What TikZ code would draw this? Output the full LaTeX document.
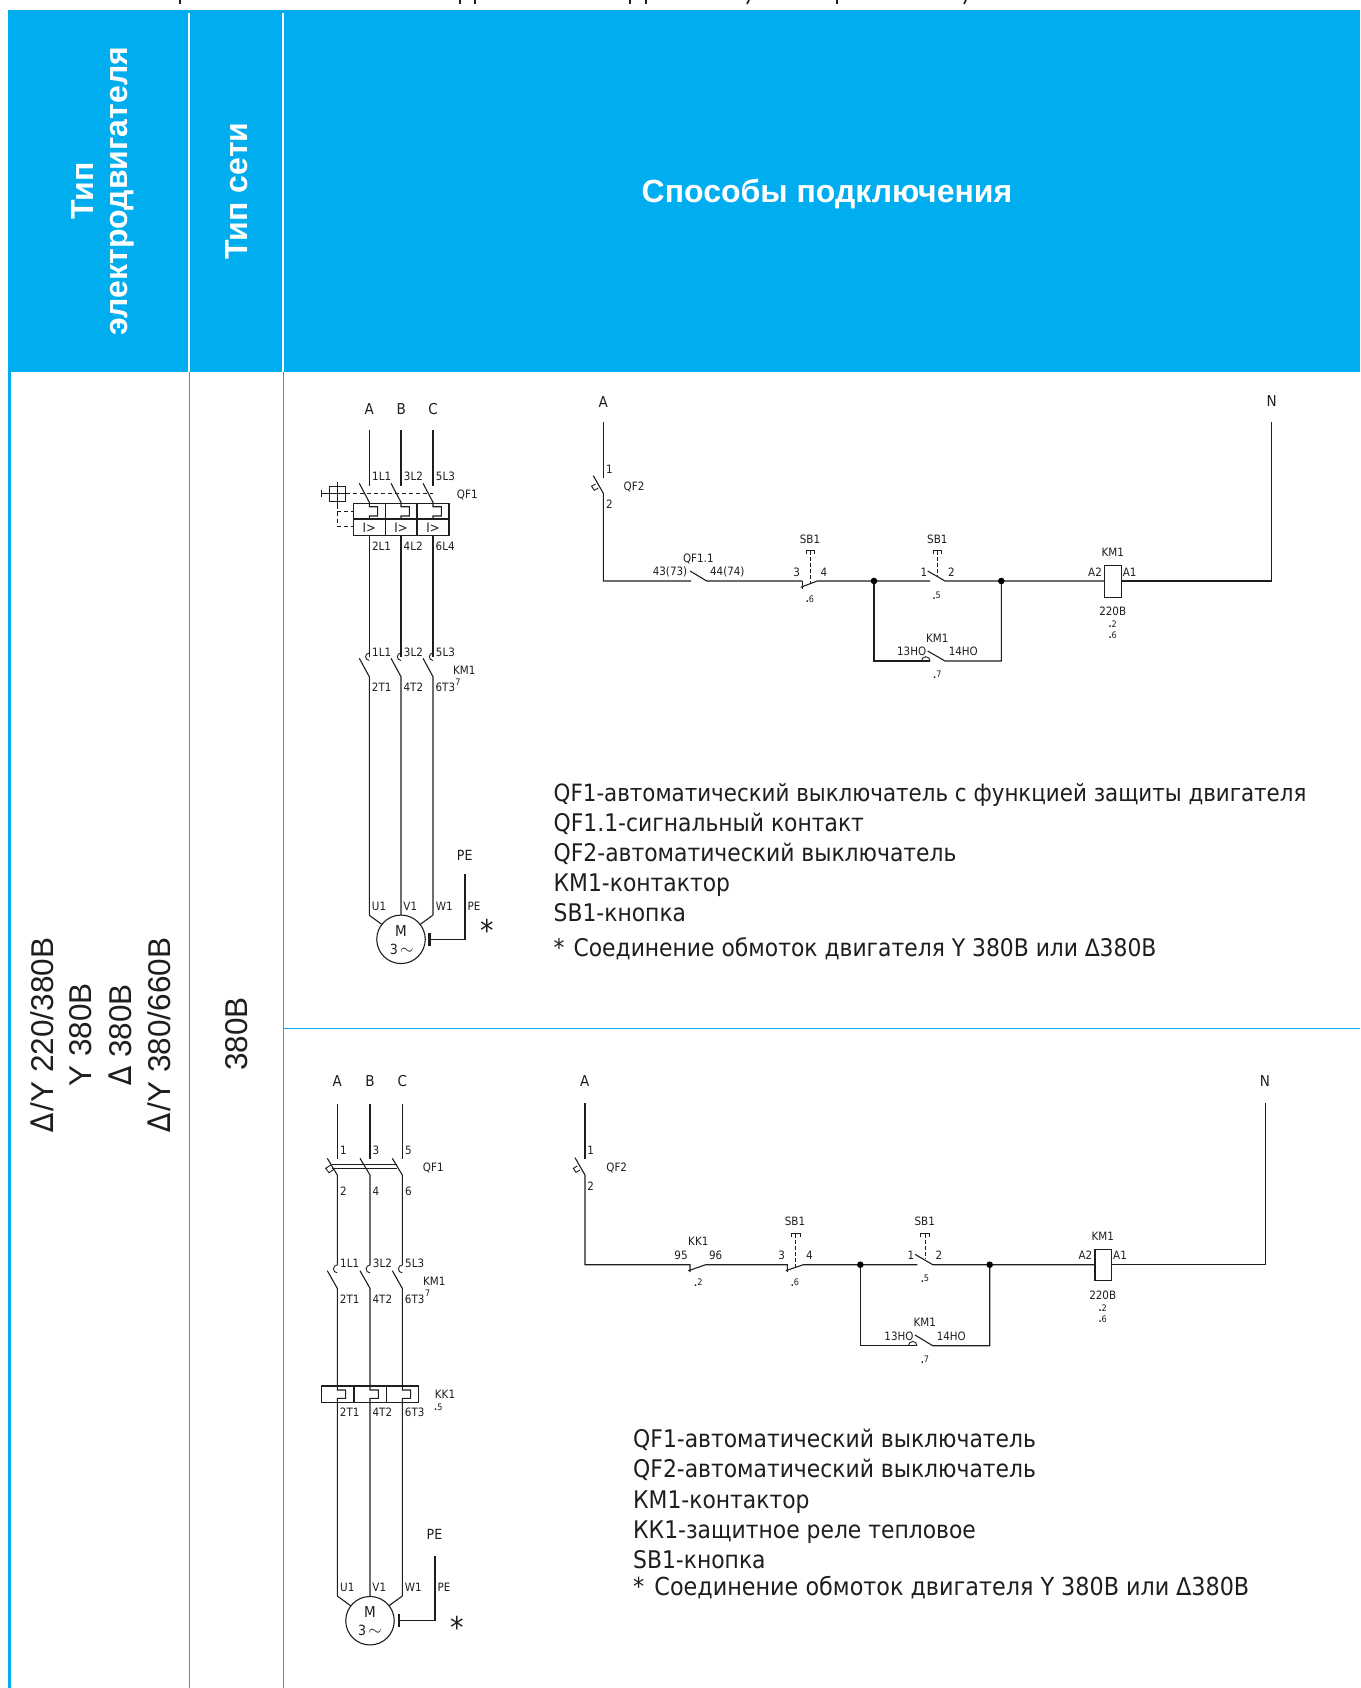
\documentclass[tikz,border=0pt]{standalone}
\usepackage{fontspec}
\setmainfont{Liberation Sans}
\newfontfamily\schem{DejaVu Sans Condensed}
\definecolor{hdr}{HTML}{00AEEF}
\definecolor{ink}{HTML}{1E1E1E}
\newcommand{\dn}[1]{\raisebox{-0.5pt}{\textbf{.}}#1}
\tikzset{
  wire/.style={draw=ink,line width=1.1pt},
  thin wire/.style={draw=ink,line width=0.9pt},
  dash wire/.style={draw=ink,line width=0.9pt,dash pattern=on 4pt off 3pt},
  lbl/.style={font=\schem\fontsize{11.5}{12}\selectfont,text=ink,inner sep=0pt},
  mini/.style={font=\schem\fontsize{9}{9}\selectfont,text=ink,inner sep=0pt},
  big/.style={font=\schem\fontsize{15}{16}\selectfont,text=ink,inner sep=0pt},
  listline/.style={font=\schem\fontsize{24.3}{30}\selectfont,text=ink,inner sep=0pt,anchor=base west},
  head/.style={font=\bfseries\fontsize{32}{34}\selectfont,text=white,inner sep=0pt,align=center},
  body/.style={font=\fontsize{31.5}{36}\selectfont,text=ink,inner sep=0pt},
  rule/.style={draw=hdr,line width=1.6pt},
  whiterule/.style={draw=white,line width=2.2pt},
  jdot/.style={circle,fill=black,inner sep=0pt,minimum size=6.6pt},
  starmark/.style={font=\schem\fontsize{30}{30}\selectfont,text=ink,inner sep=0pt},
  frag/.style={draw=ink,line width=1.6pt},
}
\begin{document}
\begin{tikzpicture}[x=1pt,y=-1pt]
\useasboundingbox (0,0) rectangle (1360,1688);
% clipped remains of a text line above the table
\foreach \x in {180,460,475,630,646,837}{\draw[frag] (\x,0) -- (\x,4);}
\foreach \x in {748,965}{\draw[frag] (\x+1,0) -- (\x-1,4);}
% table
\fill[hdr] (8,10) rectangle (1360,372);
\draw[whiterule] (189.3,13) -- (189.3,372);
\draw[whiterule] (283.3,13) -- (283.3,372);
\draw[rule,line width=2.6pt] (9.5,372) -- (9.5,1688);
\draw[rule] (189.3,372) -- (189.3,1688);
\draw[rule] (283.3,372) -- (283.3,1688);
\draw[rule] (283.3,1028.5) -- (1360,1028.5);
\node[head,rotate=90] (h1) at (103,191) {Тип\\электродвигателя};
\node[head,rotate=90] (h2) at (237,191) {Тип сети};
\node[head] (h3) at (827,194) {Способы подключения};
\node[body,rotate=90] (c1) at (42,1035) {\schem ∆\kern2pt\rmfamily/Y 220/380В};
\node[body,rotate=90] (c2) at (81,1035) {Y 380В};
\node[body,rotate=90] (c3) at (120,1035) {\schem ∆\rmfamily\ 380В};
\node[body,rotate=90] (c4) at (159,1035) {\schem ∆\kern2pt\rmfamily/Y 380/660В};
\node[body,rotate=90] (c5) at (237,1034) {380В};

% ===== Diagram 1: power =====
\node[big] (p1a) at (369.3,409) {A};
\node[big] (p1b) at (401.3,409) {B};
\node[big] (p1c) at (433,409) {C};
\foreach \x/\a/\b/\c/\d in {369.3/1L1/2L1/1L1/2T1, 401/3L2/4L2/3L2/4T2, 433/5L3/6L4/5L3/6T3}{
  \draw[wire] (\x,430) -- (\x,485.7);
  \draw[wire] (\x-10,483.3) -- (\x,502.3) -- (\x,506.7) -- ++(8.3,0) -- ++(0,9.3) -- ++(-8.3,0) -- (\x,519);
  \draw[wire] (\x,535.3) -- (\x,656.7);
  \draw[thin wire] (\x,653) arc[start angle=270,end angle=90,radius=3.7];
  \draw[wire] (\x-10,658.3) -- (\x,676.7) -- (\x,915.3);
  \node[lbl] at (\x+12.4,476.7) {\a};
  \node[lbl] at (\x+12.2,546) {\b};
  \node[lbl] at (\x+12.4,652) {\c};
  \node[lbl] at (\x+12.4,687.7) {\d};
  \node[font=\fontsize{13}{14}\selectfont\schem,text=ink,inner sep=0pt] at (\x,527.3) {I>};
}
\draw[wire] (353.3,503.3) rectangle (449,535.3);
\draw[wire] (353.3,519) -- (449,519);
\draw[wire] (385.3,503.3) -- (385.3,535.3);
\draw[wire] (417,503.3) -- (417,535.3);
\node[lbl] (qf1a) at (467.3,494.7) {QF1};
\node[lbl] (km1a) at (464.3,670) {KM1};
\node[mini] at (458,682) {7};
% handle
\draw[thin wire] (329.3,486) rectangle (345.3,501);
\draw[thin wire] (321.7,493.5) -- (345.3,493.5);
\draw[thin wire] (321.7,490) -- (321.7,497);
\draw[thin wire] (337.3,481.7) -- (337.3,505);
\draw[dash wire] (345.7,493.3) -- (433,493.3);
\draw[dash wire] (337.3,505) -- (337.3,526.7) -- (353.3,526.7);
\draw[dash wire] (337.3,511) -- (353.3,511);
% motor 1
\node[draw=ink,line width=1.1pt,circle,minimum size=48.5pt,inner sep=0pt] (m1) at (401,939.3) {};
\draw[wire] (369.3,915.3) -- (381.7,924.3);
\draw[wire] (432.7,915.3) -- (420.3,924.3);
\node[big] (m1t) at (401,931) {M};
\node[lbl,font=\schem\fontsize{14}{14}\selectfont] (m1b) at (401.7,949.3) {3\,{\fontsize{18}{18}\selectfont$\sim$}};
\node[lbl] (u1) at (379,906.7) {U1};
\node[lbl] (v1) at (410.3,906.7) {V1};
\node[lbl] (w1) at (444.3,906.7) {W1};
\node[lbl] (pe1s) at (474,906.7) {PE};
\node[font=\schem\fontsize{14}{15}\selectfont,text=ink,inner sep=0pt] (pe1) at (464.7,855) {PE};
\coordinate (pe1t) at (465,874);
\coordinate (pe1b) at (465,939.3);
\coordinate (pe1g) at (430.7,939.3);
\draw[wire] (pe1t) -- (pe1b) -- (pe1g);
\draw[draw=ink,line width=2.4pt] (429.5,933) -- (429.5,946);
\node[starmark] (st1) at (487.3,930) {*};

% ===== Diagram 1: control =====
\node[big] (ca) at (603.3,401.7) {A};
\node[big] (cn) at (1271.7,401) {N};
\draw[wire] (603.3,422.3) -- (603.3,477.7);
\draw[wire] (593.3,475.7) -- (603.3,493.3) -- (603.3,581) -- (691,581);
\draw[thin wire] (595.6,484) -- (591.6,486.3) -- (594.3,490.3) -- (598.3,488);
\coordinate (j1) at (874,581);
\coordinate (j2) at (1001.3,581);
\draw[wire] (690,571) -- (706.7,581) -- (802.3,581);
\draw[wire] (802.3,581) -- (802.3,588.5);
\draw[wire] (800.7,587.3) -- (817.3,581) -- (874,581) -- (930,581);
\draw[wire] (927.7,571) -- (945,581) -- (1104.3,581);
\draw[wire] (1121,581) -- (1271.7,581) -- (1271.7,422);
\draw[wire] (874,581) -- (874,661) -- (930,661);
\draw[wire] (927.7,651) -- (945,661) -- (1001.3,661) -- (1001.3,581);
\draw[thin wire] (921.5,661) arc[start angle=180,end angle=360,radius=4.3];
\node[jdot] (d1) at (j1) {};
\node[jdot] (d2) at (j2) {};
\draw[dash wire,dash pattern=on 3.5pt off 2.5pt] (810.3,551) -- (810.3,584);
\draw[thin wire] (806,553.5) -- (806,550) -- (814.6,550) -- (814.6,553.5);
\draw[dash wire,dash pattern=on 3.5pt off 2.5pt] (937.3,551) -- (937.3,576);
\draw[thin wire] (933,553.5) -- (933,550) -- (941.6,550) -- (941.6,553.5);
\node[draw=ink,line width=1.1pt,fill=white,minimum width=16.7pt,minimum height=32pt,inner sep=0pt] (km1c) at (1112.7,581.3) {};
\node[lbl] at (609.3,469) {1};
\node[lbl] at (634,486.7) {QF2};
\node[lbl] at (609.3,504.3) {2};
\node[lbl] at (698.3,558.7) {QF1.1};
\node[lbl] at (670,572.3) {43(73)};
\node[lbl] at (727.3,572.3) {44(74)};
\node[lbl] at (810,539) {SB1};
\node[lbl] at (796.7,572.3) {3};
\node[lbl] at (824,572.3) {4};
\node[mini] at (810,599.3) {\dn{6}};
\node[lbl] at (937.3,539) {SB1};
\node[lbl] at (924,572.3) {1};
\node[lbl] at (951.3,572.3) {2};
\node[mini] at (936.7,595.7) {\dn{5}};
\node[lbl] at (937.3,638.3) {KM1};
\node[lbl] at (911.7,651.7) {13HO};
\node[lbl] at (963.3,651.7) {14HO};
\node[mini] at (937.3,674.7) {\dn{7}};
\node[lbl] at (1112.7,552.7) {KM1};
\node[lbl] at (1095,572) {A2};
\node[lbl] at (1129.7,572) {A1};
\node[lbl] at (1112.7,611.3) {220В};
\node[mini] at (1112.7,624.3) {\dn{2}};
\node[mini] at (1112.7,635) {\dn{6}};
% list 1
\node[listline,font=\schem\fontsize{23.8}{30}\selectfont] (l11) at (553.5,801.6) {QF1-автоматический выключатель с функцией защиты двигателя};
\node[listline] (l12) at (553.5,831.2) {QF1.1-сигнальный контакт};
\node[listline] (l13) at (553.5,861) {QF2-автоматический выключатель};
\node[listline] (l14) at (553.5,891) {КМ1-контактор};
\node[listline] (l15) at (553.5,921) {SB1-кнопка};
\node[listline] (l16) at (553.5,956) {*\kern2pt\ Соединение обмоток двигателя Y 380В или ∆380В};

% ===== Diagram 2: power =====
\node[big] (p2a) at (337.3,1081) {A};
\node[big] (p2b) at (370,1081) {B};
\node[big] (p2c) at (402.3,1081) {C};
\foreach \x/\a/\b/\c/\d in {337.3/1/2/1L1/2T1, 370/3/4/3L2/4T2, 402.3/5/6/5L3/6T3}{
  \draw[wire] (\x,1104) -- (\x,1159.3);
  \draw[wire] (\x-10,1158.3) -- (\x,1175) -- (\x,1265);
  \draw[thin wire] (\x,1265) arc[start angle=270,end angle=90,radius=3.9];
  \draw[wire] (\x-10,1270.7) -- (\x,1288.3) -- (\x,1386) -- ++(0,4) -- ++(8.3,0) -- ++(0,8.3) -- ++(-8.3,0) -- (\x,1596);
  \node[lbl] at (\x+6,1150) {\a};
  \node[lbl] at (\x+6,1191.7) {\b};
  \node[lbl] at (\x+12.4,1263.3) {\c};
  \node[lbl] at (\x+12.4,1299.3) {\d};
  \node[lbl] at (\x+12.4,1412.7) {\d};
}
\draw[wire] (331.7,1164.3) -- (397.3,1164.3);
\draw[wire] (331.7,1168.3) -- (397.3,1168.3);
\draw[thin wire] (330.7,1165) -- (325.7,1168.3) -- (329,1172.7) -- (334,1169.3);
\draw[wire] (321.3,1386) rectangle (418.3,1402.3);
\draw[wire] (354,1386) -- (354,1402.3);
\draw[wire] (386.3,1386) -- (386.3,1402.3);
\node[lbl] at (433.3,1168) {QF1};
\node[lbl] at (434.3,1281.3) {KM1};
\node[mini] at (427.7,1293.3) {7};
\node[lbl] at (445,1394.7) {KK1};
\node[mini] at (438.3,1407.3) {\dn{5}};
% motor 2
\node[draw=ink,line width=1.1pt,circle,minimum size=48.5pt,inner sep=0pt] (m2) at (370,1620.7) {};
\draw[wire] (337.3,1596) -- (350.7,1605.7);
\draw[wire] (402.3,1596) -- (389,1605.7);
\node[big] (m2t) at (370,1611.7) {M};
\node[lbl,font=\schem\fontsize{14}{14}\selectfont] (m2b) at (370,1630.7) {3\,{\fontsize{18}{18}\selectfont$\sim$}};
\node[lbl] (u2) at (347.3,1587.3) {U1};
\node[lbl] (v2) at (379.3,1587.3) {V1};
\node[lbl] (w2) at (413.3,1587.3) {W1};
\node[lbl] (pe2s) at (444,1587.3) {PE};
\node[font=\schem\fontsize{14}{15}\selectfont,text=ink,inner sep=0pt] (pe2) at (434.5,1534.4) {PE};
\coordinate (pe2t) at (435,1556);
\coordinate (pe2b) at (435,1620.7);
\coordinate (pe2g) at (400,1620.7);
\draw[wire] (pe2t) -- (pe2b) -- (pe2g);
\draw[draw=ink,line width=2.4pt] (398.8,1614) -- (398.8,1627.3);
\node[starmark] (st2) at (457.3,1627.5) {*};

% ===== Diagram 2: control =====
\node[big] (c2a) at (584.7,1081) {A};
\node[big] (c2n) at (1265,1081) {N};
\draw[wire] (585,1103) -- (585,1159.3);
\draw[wire] (575,1157.7) -- (585,1175) -- (585,1264.7) -- (690,1264.7) -- (690,1272);
\draw[thin wire] (577.3,1166) -- (573.3,1168.3) -- (576,1172.3) -- (580,1170);
\coordinate (k1) at (860.3,1264.7);
\coordinate (k2) at (989.7,1264.7);
\draw[wire] (688.3,1270.7) -- (705.7,1264.7) -- (787.3,1264.7) -- (787.3,1272);
\draw[wire] (785.7,1270.7) -- (803.3,1264.7) -- (917.3,1264.7);
\draw[wire] (915,1254.3) -- (932.7,1264.7) -- (1095,1264.7);
\draw[wire] (1111.5,1264.7) -- (1265.2,1264.7) -- (1265.2,1103);
\draw[wire] (860.3,1264.7) -- (860.3,1345.7) -- (917.3,1345.7);
\draw[wire] (915,1335) -- (932.7,1345.7) -- (989.7,1345.7) -- (989.7,1264.7);
\draw[thin wire] (908.4,1345.7) arc[start angle=180,end angle=360,radius=4.3];
\node[jdot] (d3) at (k1) {};
\node[jdot] (d4) at (k2) {};
\draw[dash wire,dash pattern=on 3.5pt off 2.5pt] (795.7,1234) -- (795.7,1267);
\draw[thin wire] (791.4,1236.5) -- (791.4,1233) -- (800,1233) -- (800,1236.5);
\draw[dash wire,dash pattern=on 3.5pt off 2.5pt] (925,1234) -- (925,1259);
\draw[thin wire] (920.7,1236.5) -- (920.7,1233) -- (929.3,1233) -- (929.3,1236.5);
\node[draw=ink,line width=1.1pt,fill=white,minimum width=16.5pt,minimum height=31pt,inner sep=0pt] (km2c) at (1103.2,1264.7) {};
\node[lbl] at (590.7,1150) {1};
\node[lbl] at (616.7,1168.3) {QF2};
\node[lbl] at (590.7,1186.7) {2};
\node[lbl] at (698.3,1241.7) {KK1};
\node[lbl] at (681,1255) {95};
\node[lbl] at (715.7,1255) {96};
\node[lbl] at (795,1221.3) {SB1};
\node[lbl] at (781.7,1255) {3};
\node[lbl] at (809.3,1255) {4};
\node[mini] at (698.3,1282.7) {\dn{2}};
\node[mini] at (795,1282.7) {\dn{6}};
\node[lbl] at (924.7,1221.3) {SB1};
\node[lbl] at (911,1255) {1};
\node[lbl] at (939,1255) {2};
\node[mini] at (925,1278.7) {\dn{5}};
\node[lbl] at (924.7,1322.3) {KM1};
\node[lbl] at (899,1336) {13HO};
\node[lbl] at (951.3,1336) {14HO};
\node[mini] at (925,1359.7) {\dn{7}};
\node[lbl] at (1102.7,1236) {KM1};
\node[lbl] at (1085.4,1255.5) {A2};
\node[lbl] at (1120,1255.5) {A1};
\node[lbl] at (1102.7,1295.4) {220В};
\node[mini] at (1102.7,1308) {\dn{2}};
\node[mini] at (1102.7,1319) {\dn{6}};
% list 2
\node[listline] (l21) at (633,1447.7) {QF1-автоматический выключатель};
\node[listline] (l22) at (633,1477.9) {QF2-автоматический выключатель};
\node[listline] (l23) at (633,1508) {КМ1-контактор};
\node[listline] (l24) at (633,1538) {КК1-защитное реле тепловое};
\node[listline] (l25) at (633,1568.3) {SB1-кнопка};
\node[listline,font=\schem\fontsize{24.8}{30}\selectfont] (l26) at (633,1595.5) {*\kern3pt\ Соединение обмоток двигателя Y 380В или ∆380В};
\end{tikzpicture}
\end{document}
